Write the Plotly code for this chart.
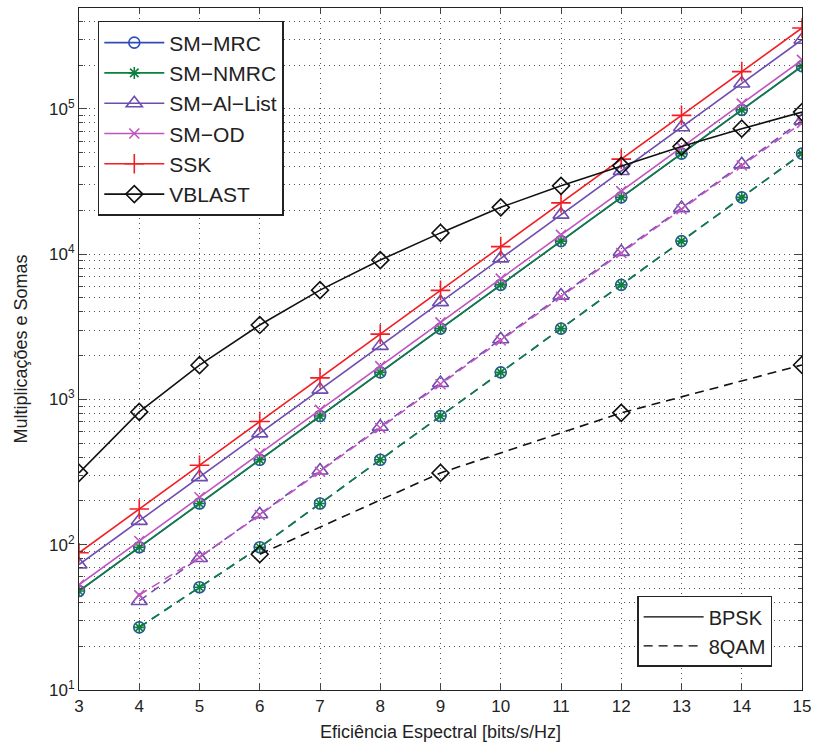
import plotly.graph_objects as go

# ---------------- data ----------------
x_bpsk = [3, 4, 5, 6, 7, 8, 9, 10, 11, 12, 13, 14, 15]
sm_mrc_bpsk = [48, 96, 192, 384, 768, 1536, 3072, 6144, 12288, 24576, 49152, 98304, 196608]
sm_nmrc_bpsk = [48, 96, 192, 384, 768, 1536, 3072, 6144, 12288, 24576, 49152, 98304, 196608]
sm_ai_bpsk = [73, 146, 292, 584, 1168, 2336, 4672, 9344, 18688, 37376, 74752, 149504, 299008]
sm_od_bpsk = [53, 106, 212, 424, 848, 1696, 3392, 6784, 13568, 27136, 54272, 108544, 217088]
ssk_bpsk = [88, 176, 352, 704, 1408, 2816, 5632, 11264, 22528, 45056, 90112, 180224, 360448]
vblast_bpsk = [312, 820, 1720, 3250, 5650, 9100, 14000, 21000, 29500, 40500, 55000, 73000, 95000]

x_8qam = [4, 5, 6, 7, 8, 9, 10, 11, 12, 13, 14, 15]
sm_mrc_8qam = [27, 51, 96, 192, 384, 768, 1536, 3072, 6144, 12288, 24576, 49152]
sm_nmrc_8qam = [27, 51, 96, 192, 384, 768, 1536, 3072, 6144, 12288, 24576, 49152]
sm_ai_8qam = [41, 81, 162, 324, 648, 1296, 2592, 5184, 10368, 20736, 41472, 82944]
sm_od_8qam = [45, 82, 160, 318, 636, 1272, 2544, 5088, 10176, 20352, 40704, 80000]
x_vblast_8qam = [6, 9, 12, 15]
vblast_8qam = [86, 312, 808, 1727]

y_tickvals = [10, 100, 1000, 10000, 100000]
y_ticktext = ["10<sup>1</sup>", "10<sup>2</sup>", "10<sup>3</sup>", "10<sup>4</sup>", "10<sup>5</sup>"]
y_minor_vals = [m * d for d in [10, 100, 1000, 10000, 100000] for m in range(2, 10)]
x_ticks = [3, 4, 5, 6, 7, 8, 9, 10, 11, 12, 13, 14, 15]

# ---------------- styles ----------------
series = [
    ("SM\u2212MRC", sm_mrc_bpsk, sm_mrc_8qam, x_8qam, "#2F4DB5", "circle-open", 11),
    ("SM\u2212NMRC", sm_nmrc_bpsk, sm_nmrc_8qam, x_8qam, "#0E7F3E", "asterisk-open", 10),
    ("SM\u2212Al\u2212List", sm_ai_bpsk, sm_ai_8qam, x_8qam, "#6F4CB0", "triangle-up-open", 14),
    ("SM\u2212OD", sm_od_bpsk, sm_od_8qam, x_8qam, "#C055C0", "x-thin-open", 10),
    ("SSK", ssk_bpsk, None, None, "#F21E24", "cross-thin-open", 14),
    ("VBLAST", vblast_bpsk, vblast_8qam, x_vblast_8qam, "#111111", "diamond-open", 13),
]
dash_style = "9px,6px"

fig = go.Figure()
for name, yb, yq, xq, color, sym, size in series:
    fig.add_trace(go.Scatter(
        x=x_bpsk, y=yb, name=name, mode="lines+markers",
        line=dict(color=color, width=1.6),
        marker=dict(symbol=sym, size=size, color=color, line=dict(width=1.6, color=color)),
        legend="legend",
    ))
    if yq is not None:
        fig.add_trace(go.Scatter(
            x=xq, y=yq, name=name + " 8QAM", mode="lines+markers", showlegend=False,
            line=dict(color=color, width=1.6, dash=dash_style),
            marker=dict(symbol=sym, size=size, color=color, line=dict(width=1.6, color=color)),
        ))

fig.add_trace(go.Scatter(x=[None], y=[None], name="BPSK", mode="lines",
                         line=dict(color="black", width=1.2), legend="legend2"))
fig.add_trace(go.Scatter(x=[None], y=[None], name="8QAM", mode="lines",
                         line=dict(color="black", width=1.2, dash=dash_style), legend="legend2"))

font_family = "Liberation Sans, Arial, sans-serif"
grid_dash = "1px,4px"
fig.update_layout(
    width=818, height=747,
    margin=dict(l=79, r=12, t=7, b=57),
    paper_bgcolor="white", plot_bgcolor="white",
    font=dict(family=font_family, size=17, color="#222222"),
    legend=dict(
        x=0.026, y=0.981, xanchor="left", yanchor="top",
        bgcolor="white", bordercolor="#222222", borderwidth=1.5,
        font=dict(size=21, color="#222222"), itemwidth=60,
        tracegroupgap=0,
    ),
    legend2=dict(
        x=0.772, y=0.138, xanchor="left", yanchor="top",
        bgcolor="white", bordercolor="#222222", borderwidth=1.5,
        font=dict(size=20, color="#222222"), itemwidth=60,
    ),
    xaxis=dict(
        range=[3, 15], tickvals=x_ticks, ticks="inside", ticklen=6,
        showline=True, linecolor="#222222", linewidth=1.2, mirror="ticks",
        showgrid=True, gridcolor="#555555", griddash=grid_dash, gridwidth=1,
        zeroline=False, ticklabeloverflow="allow",
        title=dict(text="Eficiência Espectral [bits/s/Hz]", font=dict(size=18), standoff=10),
        tickfont=dict(size=17),
    ),
    yaxis=dict(
        type="log", range=[1, 5.694], tickvals=y_tickvals, ticktext=y_ticktext,
        ticks="inside", ticklen=8,
        showline=True, linecolor="#222222", linewidth=1.2, mirror="ticks",
        showgrid=True, gridcolor="#555555", griddash=grid_dash, gridwidth=1,
        minor=dict(tickvals=y_minor_vals, ticks="inside", ticklen=4, showgrid=True,
                   gridcolor="#555555", griddash=grid_dash, gridwidth=1),
        zeroline=False,
        title=dict(text="Multiplicações e Somas", font=dict(size=18), standoff=16),
        tickfont=dict(size=17),
    ),
)

fig.write_html("out.html", post_script="document.body.style.margin='0';",
               config={"displayModeBar": False})
